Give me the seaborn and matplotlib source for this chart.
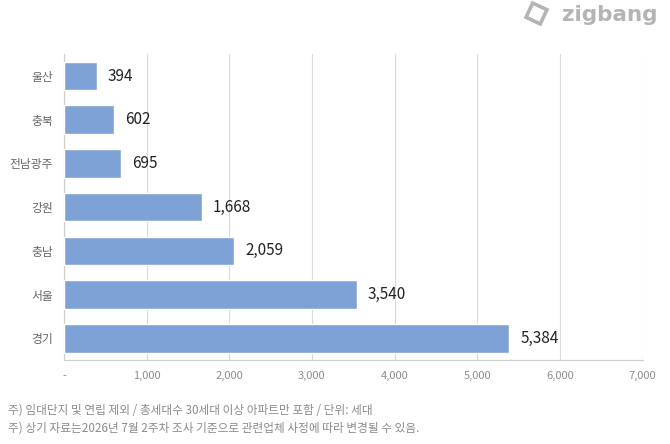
import pandas as pd
import matplotlib.pyplot as plt
import seaborn as sns
from matplotlib.lines import Line2D

regions = ['울산', '충북', '전남광주', '강원', '충남', '서울', '경기']
units = [394, 602, 695, 1668, 2059, 3540, 5384]
xticks = [0, 1000, 2000, 3000, 4000, 5000, 6000, 7000]
xtick_labels = ['-', '1,000', '2,000', '3,000', '4,000', '5,000', '6,000', '7,000']
notes = ['주) 임대단지 및 연립 제외 / 총세대수 30세대 이상 아파트만 포함 / 단위: 세대',
         '주) 상기 자료는2026년 7월 2주차 조사 기준으로 관련업체 사정에 따라 변경될 수 있음.']

df = pd.DataFrame({'region': regions, 'units': units})

sns.set_theme(style='white')
plt.rcParams['font.family'] = ['Noto Sans CJK KR', 'DejaVu Sans']

fig = plt.figure(figsize=(6.7, 4.44), dpi=100)
ax = fig.add_axes([0.0955, 0.189, 0.8635, 0.689])

sns.barplot(data=df, x='units', y='region', color='#7fa2d6', saturation=1,
            width=0.655, ax=ax, zorder=3)

ax.set_xlim(0, 7000)
ax.set_xticks(xticks)
ax.set_xticklabels(xtick_labels)
ax.set_xlabel('')
ax.set_ylabel('')
ax.grid(axis='x', color='#d9d9d9', linewidth=0.8, zorder=0)
ax.tick_params(axis='x', colors='#8c8c8c', labelsize=8, pad=8, length=0)
ax.tick_params(axis='y', colors='#666666', labelsize=8.5, pad=8, length=0)

for s in ['top', 'right']:
    ax.spines[s].set_visible(False)
for s in ['left', 'bottom']:
    ax.spines[s].set_color('#d0d0d0')
    ax.spines[s].set_linewidth(0.9)

for i, v in enumerate(units):
    ax.text(v + 135, i, f'{v:,}', va='center', ha='left', fontsize=11,
            color='#222222', zorder=4)

fig.text(0.012, 0.077, notes[0], fontsize=8.4, color='#8a8a8a', va='center')
fig.text(0.012, 0.035, notes[1], fontsize=8.4, color='#8a8a8a', va='center')

# logo
fig.text(0.981, 0.966, 'zigbang', fontsize=15.5, fontweight='bold', color='#b4b4b4',
         ha='right', va='center', family=['DejaVu Sans'])
fig.add_artist(Line2D([0.800], [0.970], marker=(4, 0, 20), markersize=16,
                      markerfacecolor='none', markeredgecolor='#b4b4b4',
                      markeredgewidth=2.6, transform=fig.transFigure))

plt.savefig('out.png', dpi=100)
